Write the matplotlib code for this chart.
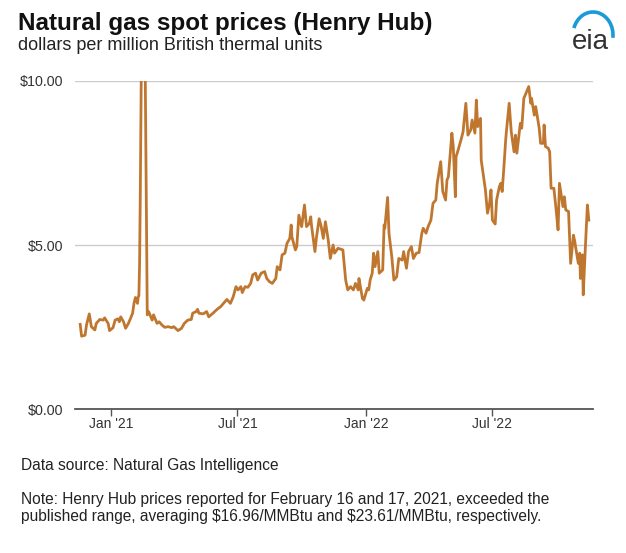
import numpy as np
import pandas as pd
import matplotlib
matplotlib.use("Agg")
import matplotlib.pyplot as plt
from matplotlib.patches import Arc

### Data ###
# Henry Hub spot price readings (dollars per MMBtu)
dates = [
    "2020-11-18", "2020-11-20", "2020-11-25", "2020-11-27", "2020-12-01", "2020-12-04",
    "2020-12-09", "2020-12-11", "2020-12-16", "2020-12-21", "2020-12-23", "2020-12-28",
    "2020-12-30", "2021-01-04", "2021-01-07", "2021-01-11", "2021-01-13", "2021-01-15",
    "2021-01-19", "2021-01-22", "2021-01-26", "2021-01-29", "2021-02-01", "2021-02-03",
    "2021-02-05", "2021-02-08", "2021-02-09", "2021-02-10", "2021-02-11", "2021-02-12",
    "2021-02-16", "2021-02-17", "2021-02-18", "2021-02-19", "2021-02-22", "2021-02-24",
    "2021-03-01", "2021-03-03", "2021-03-08", "2021-03-11", "2021-03-15", "2021-03-19",
    "2021-03-24", "2021-03-29", "2021-04-01", "2021-04-07", "2021-04-12", "2021-04-16",
    "2021-04-21", "2021-04-26", "2021-04-28", "2021-05-03", "2021-05-05", "2021-05-07",
    "2021-05-13", "2021-05-18", "2021-05-21", "2021-05-27", "2021-06-02", "2021-06-07",
    "2021-06-11", "2021-06-16", "2021-06-21", "2021-06-25", "2021-06-29", "2021-07-02",
    "2021-07-06", "2021-07-08", "2021-07-12", "2021-07-16", "2021-07-20", "2021-07-23",
    "2021-07-27", "2021-07-30", "2021-08-04", "2021-08-09", "2021-08-12", "2021-08-16",
    "2021-08-20", "2021-08-25", "2021-08-27", "2021-08-31", "2021-09-03", "2021-09-07",
    "2021-09-10", "2021-09-14", "2021-09-16", "2021-09-17", "2021-09-22", "2021-09-24",
    "2021-09-27", "2021-10-01", "2021-10-05", "2021-10-08", "2021-10-12", "2021-10-14",
    "2021-10-15", "2021-10-20", "2021-10-22", "2021-10-26", "2021-10-29", "2021-11-01",
    "2021-11-04", "2021-11-08", "2021-11-11", "2021-11-15", "2021-11-17", "2021-11-22",
    "2021-11-26", "2021-11-29", "2021-12-03", "2021-12-06", "2021-12-10", "2021-12-14",
    "2021-12-17", "2021-12-21", "2021-12-22", "2021-12-27", "2021-12-29", "2022-01-03",
    "2022-01-05", "2022-01-07", "2022-01-10", "2022-01-12", "2022-01-14", "2022-01-18",
    "2022-01-20", "2022-01-25", "2022-01-27", "2022-01-28", "2022-02-01", "2022-02-03",
    "2022-02-07", "2022-02-10", "2022-02-14", "2022-02-17", "2022-02-22", "2022-02-24",
    "2022-02-28", "2022-03-03", "2022-03-07", "2022-03-10", "2022-03-14", "2022-03-18",
    "2022-03-22", "2022-03-24", "2022-03-28", "2022-03-31", "2022-04-04", "2022-04-07",
    "2022-04-11", "2022-04-13", "2022-04-18", "2022-04-21", "2022-04-25", "2022-04-27",
    "2022-04-29", "2022-05-04", "2022-05-06", "2022-05-09", "2022-05-10", "2022-05-13",
    "2022-05-17", "2022-05-20", "2022-05-24", "2022-05-27", "2022-05-31", "2022-06-02",
    "2022-06-06", "2022-06-08", "2022-06-10", "2022-06-14", "2022-06-15", "2022-06-17",
    "2022-06-21", "2022-06-24", "2022-06-27", "2022-06-29", "2022-07-01", "2022-07-05",
    "2022-07-07", "2022-07-11", "2022-07-13", "2022-07-15", "2022-07-18", "2022-07-20",
    "2022-07-21", "2022-07-25", "2022-07-28", "2022-08-01", "2022-08-03", "2022-08-05",
    "2022-08-10", "2022-08-12", "2022-08-15", "2022-08-22", "2022-08-25", "2022-08-26",
    "2022-08-30", "2022-09-01", "2022-09-06", "2022-09-08", "2022-09-12", "2022-09-13",
    "2022-09-15", "2022-09-19", "2022-09-21", "2022-09-23", "2022-09-27", "2022-09-30",
    "2022-10-03", "2022-10-05", "2022-10-10", "2022-10-12", "2022-10-14", "2022-10-18",
    "2022-10-21", "2022-10-25", "2022-10-27", "2022-10-28", "2022-11-01", "2022-11-03",
    "2022-11-04", "2022-11-07", "2022-11-08", "2022-11-11", "2022-11-14", "2022-11-16",
]
prices = [
    2.58, 2.22, 2.25, 2.56, 2.90, 2.51,
    2.41, 2.61, 2.73, 2.71, 2.78, 2.61,
    2.39, 2.48, 2.71, 2.75, 2.66, 2.81,
    2.66, 2.46, 2.61, 2.76, 2.92, 3.22,
    3.40, 3.22, 3.42, 3.45, 4.40, 6.50,
    16.96, 23.61, 15.00, 10.50, 2.87, 2.97,
    2.71, 2.87, 2.61, 2.66, 2.56, 2.49,
    2.51, 2.48, 2.51, 2.39, 2.46, 2.61,
    2.71, 2.73, 2.92, 2.97, 3.04, 2.92,
    2.90, 2.97, 2.81, 2.92, 3.04, 3.12,
    3.22, 3.34, 3.22, 3.42, 3.73, 3.63,
    3.73, 3.55, 3.73, 3.71, 3.83, 4.09,
    4.14, 3.93, 4.14, 4.19, 3.98, 3.88,
    3.83, 3.98, 4.34, 4.24, 4.70, 4.75,
    5.05, 5.20, 5.61, 5.25, 4.85, 4.95,
    5.91, 5.56, 6.22, 5.56, 5.66, 5.86,
    5.61, 4.80, 5.20, 5.80, 5.56, 5.20,
    5.71, 5.15, 4.59, 5.00, 4.75, 4.90,
    4.87, 4.85, 3.93, 3.63, 3.73, 3.63,
    3.83, 3.63, 3.98, 3.37, 3.32, 3.68,
    3.63, 3.93, 4.14, 4.75, 4.34, 4.80,
    4.14, 4.24, 5.61, 5.51, 6.45, 5.36,
    4.64, 3.93, 4.03, 4.59, 4.54, 4.80,
    4.29, 4.80, 4.95, 4.59, 4.75, 4.77,
    5.36, 5.51, 5.36, 5.56, 5.76, 6.27,
    6.37, 6.88, 7.54, 6.63, 6.37, 6.98,
    7.08, 8.41, 8.00, 6.47, 7.69, 7.90,
    8.20, 8.45, 9.32, 8.35, 8.51, 8.81,
    8.41, 9.42, 8.61, 8.86, 7.59, 7.29,
    6.68, 5.97, 6.27, 6.68, 5.76, 5.64,
    6.37, 6.78, 6.88, 6.63, 7.54, 8.20,
    8.45, 9.32, 8.45, 7.84, 8.35, 7.80,
    8.71, 8.56, 9.47, 9.83, 9.32, 9.47,
    8.96, 9.22, 8.56, 8.10, 8.10, 8.66,
    8.00, 7.95, 7.84, 6.73, 6.73, 6.12,
    5.46, 6.88, 6.17, 6.47, 6.07, 6.02,
    4.44, 5.30, 5.10, 4.95, 4.44, 4.75,
    3.98, 4.70, 3.48, 4.90, 6.22, 5.76,
]
y_ticks = [0, 5, 10]
y_tick_labels = ["$0.00", "$5.00", "$10.00"]
x_ticks = ["2021-01-01", "2021-07-01", "2022-01-01", "2022-07-01"]
x_tick_labels = ["Jan '21", "Jul '21", "Jan '22", "Jul '22"]

title = "Natural gas spot prices (Henry Hub)"
subtitle = "dollars per million British thermal units"
source = "Data source: Natural Gas Intelligence"
note_lines = ["Note: Henry Hub prices reported for February 16 and 17, 2021, exceeded the",
              "published range, averaging $16.96/MMBtu and $23.61/MMBtu, respectively."]

### Plot ###
plt.rcParams['font.family'] = ['Liberation Sans', 'DejaVu Sans']
plt.rcParams['text.parse_math'] = False  # dollar signs are literal

W, H = 626, 553
fig = plt.figure(figsize=(W / 100, H / 100), dpi=100)
ax = fig.add_axes([75.3 / W, (H - 409) / H, (593 - 75.3) / W, (409 - 81) / H])

ax.plot(pd.to_datetime(dates), prices, color='#bf772f', lw=2.0, solid_joinstyle='round')

ax.set_ylim(0, 10)
ax.set_xlim(pd.Timestamp("2020-11-11"), pd.Timestamp("2022-11-22"))

# y axis: gridlines only, no tick marks
ax.set_yticks(y_ticks)
ax.set_yticklabels(y_tick_labels)
ax.grid(axis='y', color='#cccccc', lw=1.0)
ax.tick_params(axis='y', length=0, pad=8.5, labelsize=10.3, labelcolor='#333333')

# x axis
ax.set_xticks(pd.to_datetime(x_ticks))
ax.set_xticklabels(x_tick_labels)
ax.tick_params(axis='x', length=5, width=1, color='#555555', pad=1,
               labelsize=10, labelcolor='#333333')

for side in ['top', 'right', 'left']:
    ax.spines[side].set_visible(False)
ax.spines['bottom'].set_color('#555555')
ax.spines['bottom'].set_linewidth(1.3)
ax.set_axisbelow(True)

# titles
fig.text(18 / W, 1 - 30 / H, title, fontsize=17.5, fontweight='bold', va='baseline', color='#111111')
fig.text(18 / W, 1 - 50 / H, subtitle, fontsize=13, va='baseline', color='#222222')

# footer
fig.text(21 / W, 1 - 470 / H, source, fontsize=11.2, va='baseline', color='#222222')
for i, line in enumerate(note_lines):
    fig.text(21 / W, 1 - (504 + 17 * i) / H, line, fontsize=11.2, va='baseline', color='#222222')

# eia logo
lax = fig.add_axes([562 / W, (H - 52) / H, 54 / W, 46 / H])
lax.set_xlim(0, 54)
lax.set_ylim(0, 46)
lax.axis('off')
lax.add_patch(Arc((31, 17), 40, 46, theta1=-8, theta2=160, color='#1a9bd7', lw=2.6))
lax.text(28, 10, "eia", fontsize=20, ha='center', va='center', color='#333333')

fig.savefig("out.png", dpi=100)
